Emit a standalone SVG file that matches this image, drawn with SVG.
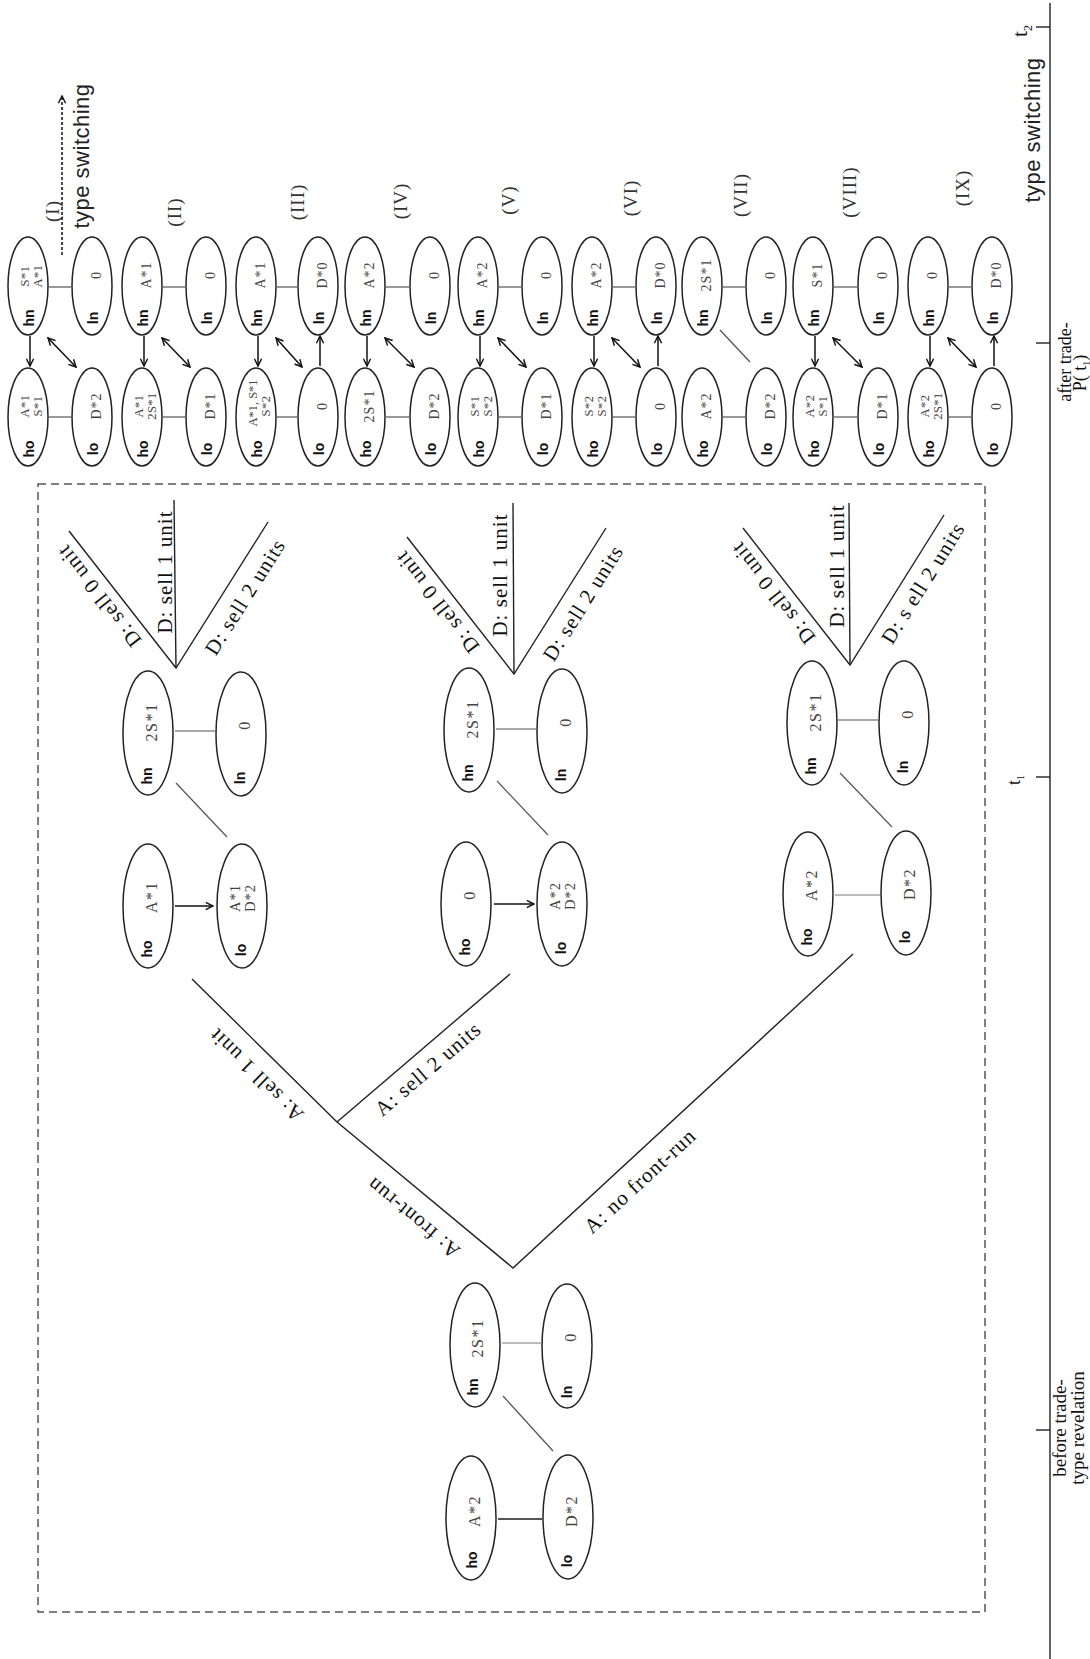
<svg xmlns="http://www.w3.org/2000/svg" width="1090" height="1659" viewBox="0 0 1090 1659">
<style>
.e{fill:#fff;stroke:#222;stroke-width:1.5}
.lb{font-family:"Liberation Sans",Arial,sans-serif;font-weight:bold;font-size:14px;fill:#111}
.v{font-family:"Liberation Serif","Times New Roman",serif;font-size:14px;fill:#444;letter-spacing:1px}
.v2{font-family:"Liberation Serif","Times New Roman",serif;font-size:12.5px;fill:#444;letter-spacing:0.5px}
.vm{font-family:"Liberation Serif","Times New Roman",serif;font-size:16px;fill:#444;letter-spacing:1.5px}
.vm2{font-family:"Liberation Serif","Times New Roman",serif;font-size:14.5px;fill:#444;letter-spacing:1px}
.t{font-family:"Liberation Serif","Times New Roman",serif;font-size:21px;fill:#111;letter-spacing:1px}
.rn{font-family:"Liberation Serif","Times New Roman",serif;font-size:19px;fill:#333;letter-spacing:1px}
.ts{font-family:"Liberation Sans",Arial,sans-serif;font-size:22px;fill:#222;letter-spacing:0.5px}
.ax{font-family:"Liberation Serif","Times New Roman",serif;font-size:18px;fill:#111}
.c{stroke:#222;stroke-width:1.4;fill:none}
.g{stroke:#555;stroke-width:1.2;fill:none}
.a{stroke:#111;stroke-width:1.5;fill:none}
text{dominant-baseline:central;text-anchor:middle}
</style>
<defs>
<marker id="ah" viewBox="0 0 10 10" refX="9" refY="5" markerWidth="9" markerHeight="9" markerUnits="userSpaceOnUse" orient="auto-start-reverse">
<path d="M1,1 L9,5 L1,9" fill="none" stroke="#111" stroke-width="1.6"/>
</marker>
</defs>
<rect width="1090" height="1659" fill="#fff"/>

<!-- frame and timeline -->
<rect x="38" y="484" width="947" height="1128" fill="none" stroke="#555" stroke-width="1.5" stroke-dasharray="8 5"/>
<g id="timeline">
<line class="c" x1="1050" y1="3" x2="1050" y2="1659"/>
<line class="c" x1="1036" y1="27" x2="1050" y2="27"/>
<line class="c" x1="1036" y1="343" x2="1050" y2="343"/>
<line class="c" x1="1036" y1="777" x2="1050" y2="777"/>
<line class="c" x1="1036" y1="1430" x2="1050" y2="1430"/>
<text class="ax" style="font-size:22px;dominant-baseline:alphabetic;text-anchor:start" transform="translate(1027,37) rotate(-90)">t<tspan font-size="12" dy="5">2</tspan></text>
<text class="ax" style="dominant-baseline:alphabetic;text-anchor:start" transform="translate(1020,785) rotate(-90)">t<tspan font-size="10" dy="4">1</tspan></text>
<text class="ax" style="dominant-baseline:alphabetic" transform="translate(1071,362) rotate(-90)">after trade-</text>
<text class="ax" style="dominant-baseline:alphabetic" transform="translate(1086,373) rotate(-90)">P( t<tspan font-size="10" dy="4">1</tspan><tspan dy="-4">)</tspan></text>
<text class="ax" style="dominant-baseline:alphabetic;font-size:19px" transform="translate(1066,1428) rotate(-90)">before trade-</text>
<text class="ax" style="dominant-baseline:alphabetic;font-size:19px" transform="translate(1084,1428) rotate(-90)">type revelation</text>
<text class="ts" style="dominant-baseline:alphabetic" transform="translate(1040,130) rotate(-90)">type switching</text>
</g>

<text class="ts" style="dominant-baseline:alphabetic" transform="translate(89,156) rotate(-90)">type switching</text>

<!-- case labels -->
<g id="case-labels">
<text class="rn" transform="translate(52,211) rotate(-90)">(I)</text>
<text class="rn" transform="translate(174,212) rotate(-90)">(II)</text>
<text class="rn" transform="translate(297,202) rotate(-90)">(III)</text>
<text class="rn" transform="translate(400,201) rotate(-90)">(IV)</text>
<text class="rn" transform="translate(508,200) rotate(-90)">(V)</text>
<text class="rn" transform="translate(630,198) rotate(-90)">(VI)</text>
<text class="rn" transform="translate(740,195) rotate(-90)">(VII)</text>
<text class="rn" transform="translate(849,192) rotate(-90)">(VIII)</text>
<text class="rn" transform="translate(962,188) rotate(-90)">(IX)</text>
</g>

<!-- connectors -->
<g id="connectors">
<line class="a" x1="62" y1="255" x2="62" y2="96" stroke-dasharray="3 2" marker-end="url(#ah)"/>
<g class="g">
<line x1="49" y1="287" x2="71" y2="287"/><line x1="49" y1="417" x2="71" y2="417"/>
<line x1="163" y1="287" x2="185" y2="287"/><line x1="163" y1="417" x2="185" y2="417"/>
<line x1="277" y1="287" x2="297" y2="287"/><line x1="277" y1="417" x2="297" y2="417"/>
<line x1="386" y1="287" x2="409" y2="287"/><line x1="386" y1="417" x2="409" y2="417"/>
<line x1="499" y1="287" x2="521" y2="287"/><line x1="499" y1="417" x2="521" y2="417"/>
<line x1="613" y1="287" x2="635" y2="287"/><line x1="613" y1="417" x2="635" y2="417"/>
<line x1="723" y1="287" x2="745" y2="287"/><line x1="723" y1="417" x2="745" y2="417"/>
<line x1="834" y1="287" x2="857" y2="287"/><line x1="834" y1="417" x2="857" y2="417"/>
<line x1="949" y1="287" x2="971" y2="287"/><line x1="949" y1="417" x2="971" y2="417"/>
<line x1="720" y1="330" x2="750" y2="362"/>
</g>
<g class="a">
<line x1="30" y1="336" x2="30" y2="366" marker-end="url(#ah)"/>
<line x1="48" y1="338" x2="76" y2="367" marker-start="url(#ah)" marker-end="url(#ah)"/>
<line x1="144" y1="336" x2="144" y2="366" marker-end="url(#ah)"/>
<line x1="162" y1="338" x2="190" y2="367" marker-start="url(#ah)" marker-end="url(#ah)"/>
<line x1="258" y1="336" x2="258" y2="366" marker-end="url(#ah)"/>
<line x1="276" y1="338" x2="302" y2="367" marker-start="url(#ah)" marker-end="url(#ah)"/>
<line x1="320" y1="366" x2="320" y2="336" marker-end="url(#ah)"/>
<line x1="367" y1="336" x2="367" y2="366" marker-end="url(#ah)"/>
<line x1="385" y1="338" x2="414" y2="367" marker-start="url(#ah)" marker-end="url(#ah)"/>
<line x1="480" y1="336" x2="480" y2="366" marker-end="url(#ah)"/>
<line x1="498" y1="338" x2="526" y2="367" marker-start="url(#ah)" marker-end="url(#ah)"/>
<line x1="594" y1="336" x2="594" y2="366" marker-end="url(#ah)"/>
<line x1="612" y1="338" x2="640" y2="367" marker-start="url(#ah)" marker-end="url(#ah)"/>
<line x1="658" y1="366" x2="658" y2="336" marker-end="url(#ah)"/>
<line x1="815" y1="336" x2="815" y2="366" marker-end="url(#ah)"/>
<line x1="833" y1="338" x2="862" y2="367" marker-start="url(#ah)" marker-end="url(#ah)"/>
<line x1="930" y1="336" x2="930" y2="366" marker-end="url(#ah)"/>
<line x1="948" y1="338" x2="976" y2="367" marker-start="url(#ah)" marker-end="url(#ah)"/>
<line x1="994" y1="366" x2="994" y2="336" marker-end="url(#ah)"/>
</g>
<g class="c">
<polyline points="192,979 337,1122 513,1268 853,954"/>
<line x1="337" y1="1122" x2="510" y2="974"/>
<polyline points="69,531 176,668 268,522"/><line x1="176" y1="668" x2="174" y2="500"/>
<polyline points="407,537 514,674 606,528"/><line x1="514" y1="674" x2="513" y2="503"/>
<polyline points="743,528 850,665 944,515"/><line x1="850" y1="665" x2="849" y2="503"/>
</g>
<g class="g">
<line x1="175" y1="731" x2="215" y2="731"/><line x1="176" y1="783" x2="227" y2="837"/>
<line x1="496" y1="729" x2="536" y2="729"/><line x1="497" y1="781" x2="548" y2="835"/>
<line x1="838" y1="720" x2="878" y2="720"/><line x1="840" y1="773" x2="892" y2="827"/>
<line x1="835" y1="895" x2="880" y2="895" stroke-width="0.8"/>
<line x1="502" y1="1343" x2="541" y2="1343" stroke-width="0.8"/><line x1="503" y1="1396" x2="553" y2="1451"/>
<line x1="498" y1="1519" x2="542" y2="1519" stroke-width="2"/>
</g>
<g class="a">
<line x1="175" y1="906" x2="213" y2="906" marker-end="url(#ah)"/>
<line x1="494" y1="904" x2="534" y2="904" marker-end="url(#ah)"/>
</g>
</g>

<!-- tree labels -->
<g id="tree-labels">
<text class="t" transform="translate(413,1218) rotate(-140.3)">A: front-run</text>
<text class="t" transform="translate(256,1075) rotate(-135.4)">A: sell 1 unit</text>
<text class="t" transform="translate(428,1069) rotate(-40.5)">A: sell 2 units</text>
<text class="t" transform="translate(640,1181) rotate(-42.7)">A: no front-run</text>
<text class="t" transform="translate(99,596) rotate(-128)">D: sell 0 unit</text>
<text class="t" transform="translate(165,572) rotate(-90)">D: sell 1 unit</text>
<text class="t" transform="translate(245,597) rotate(-57.8)">D: sell 2 units</text>
<text class="t" transform="translate(437,602) rotate(-128)">D: sell 0 unit</text>
<text class="t" transform="translate(500,575) rotate(-90)">D: sell 1 unit</text>
<text class="t" transform="translate(583,603) rotate(-57.8)">D: sell 2 units</text>
<text class="t" transform="translate(773,593) rotate(-128)">D: sell 0 unit</text>
<text class="t" transform="translate(837,566) rotate(-90)">D: sell 1 unit</text>
<text class="t" transform="translate(923,583) rotate(-57.9)">D: s ell 2 units</text>
</g>

<!-- right column nodes -->
<g id="c1-hn"><ellipse class="e" cx="28" cy="286" rx="20" ry="49"/><text class="lb" transform="translate(29,318) rotate(-90)">hn</text><text class="v2" transform="translate(25,276) rotate(-90)">S*1</text><text class="v2" transform="translate(38,276) rotate(-90)">A*1</text></g>
<g id="c1-ln"><ellipse class="e" cx="92" cy="286" rx="20" ry="49"/><text class="lb" transform="translate(93,318) rotate(-90)">ln</text><text class="v" transform="translate(96,275) rotate(-90)">0</text></g>
<g id="c1-ho"><ellipse class="e" cx="28" cy="417" rx="20" ry="49"/><text class="lb" transform="translate(29,449) rotate(-90)">ho</text><text class="v2" transform="translate(25,406) rotate(-90)">A*1</text><text class="v2" transform="translate(38,406) rotate(-90)">S*1</text></g>
<g id="c1-lo"><ellipse class="e" cx="92" cy="417" rx="20" ry="49"/><text class="lb" transform="translate(93,449) rotate(-90)">lo</text><text class="v" transform="translate(96,406) rotate(-90)">D*2</text></g>

<g id="c2-hn"><ellipse class="e" cx="142" cy="286" rx="20" ry="49"/><text class="lb" transform="translate(143,318) rotate(-90)">hn</text><text class="v" transform="translate(146,275) rotate(-90)">A*1</text></g>
<g id="c2-ln"><ellipse class="e" cx="206" cy="286" rx="20" ry="49"/><text class="lb" transform="translate(207,318) rotate(-90)">ln</text><text class="v" transform="translate(210,275) rotate(-90)">0</text></g>
<g id="c2-ho"><ellipse class="e" cx="142" cy="417" rx="20" ry="49"/><text class="lb" transform="translate(143,449) rotate(-90)">ho</text><text class="v2" transform="translate(139,406) rotate(-90)">A*1</text><text class="v2" transform="translate(152,406) rotate(-90)">2S*1</text></g>
<g id="c2-lo"><ellipse class="e" cx="206" cy="417" rx="20" ry="49"/><text class="lb" transform="translate(207,449) rotate(-90)">lo</text><text class="v" transform="translate(210,406) rotate(-90)">D*1</text></g>

<g id="c3-hn"><ellipse class="e" cx="256" cy="286" rx="20" ry="49"/><text class="lb" transform="translate(257,318) rotate(-90)">hn</text><text class="v" transform="translate(260,275) rotate(-90)">A*1</text></g>
<g id="c3-ln"><ellipse class="e" cx="318" cy="286" rx="20" ry="49"/><text class="lb" transform="translate(319,318) rotate(-90)">ln</text><text class="v" transform="translate(322,275) rotate(-90)">D*0</text></g>
<g id="c3-ho"><ellipse class="e" cx="256" cy="417" rx="20" ry="49"/><text class="lb" transform="translate(257,449) rotate(-90)">ho</text><text class="v2" style="letter-spacing:0" transform="translate(253,403) rotate(-90)">A*1, S*1</text><text class="v2" transform="translate(266,406) rotate(-90)">S*2</text></g>
<g id="c3-lo"><ellipse class="e" cx="318" cy="417" rx="20" ry="49"/><text class="lb" transform="translate(319,449) rotate(-90)">lo</text><text class="v" transform="translate(322,406) rotate(-90)">0</text></g>

<g id="c4-hn"><ellipse class="e" cx="365" cy="286" rx="20" ry="49"/><text class="lb" transform="translate(366,318) rotate(-90)">hn</text><text class="v" transform="translate(369,275) rotate(-90)">A*2</text></g>
<g id="c4-ln"><ellipse class="e" cx="430" cy="286" rx="20" ry="49"/><text class="lb" transform="translate(431,318) rotate(-90)">ln</text><text class="v" transform="translate(434,275) rotate(-90)">0</text></g>
<g id="c4-ho"><ellipse class="e" cx="365" cy="417" rx="20" ry="49"/><text class="lb" transform="translate(366,449) rotate(-90)">ho</text><text class="v" transform="translate(369,406) rotate(-90)">2S*1</text></g>
<g id="c4-lo"><ellipse class="e" cx="430" cy="417" rx="20" ry="49"/><text class="lb" transform="translate(431,449) rotate(-90)">lo</text><text class="v" transform="translate(434,406) rotate(-90)">D*2</text></g>

<g id="c5-hn"><ellipse class="e" cx="478" cy="286" rx="20" ry="49"/><text class="lb" transform="translate(479,318) rotate(-90)">hn</text><text class="v" transform="translate(482,275) rotate(-90)">A*2</text></g>
<g id="c5-ln"><ellipse class="e" cx="542" cy="286" rx="20" ry="49"/><text class="lb" transform="translate(543,318) rotate(-90)">ln</text><text class="v" transform="translate(546,275) rotate(-90)">0</text></g>
<g id="c5-ho"><ellipse class="e" cx="478" cy="417" rx="20" ry="49"/><text class="lb" transform="translate(479,449) rotate(-90)">ho</text><text class="v2" transform="translate(475,406) rotate(-90)">S*1</text><text class="v2" transform="translate(488,406) rotate(-90)">S*2</text></g>
<g id="c5-lo"><ellipse class="e" cx="542" cy="417" rx="20" ry="49"/><text class="lb" transform="translate(543,449) rotate(-90)">lo</text><text class="v" transform="translate(546,406) rotate(-90)">D*1</text></g>

<g id="c6-hn"><ellipse class="e" cx="592" cy="286" rx="20" ry="49"/><text class="lb" transform="translate(593,318) rotate(-90)">hn</text><text class="v" transform="translate(596,275) rotate(-90)">A*2</text></g>
<g id="c6-ln"><ellipse class="e" cx="656" cy="286" rx="20" ry="49"/><text class="lb" transform="translate(657,318) rotate(-90)">ln</text><text class="v" transform="translate(660,275) rotate(-90)">D*0</text></g>
<g id="c6-ho"><ellipse class="e" cx="592" cy="417" rx="20" ry="49"/><text class="lb" transform="translate(593,449) rotate(-90)">ho</text><text class="v2" transform="translate(589,406) rotate(-90)">S*2</text><text class="v2" transform="translate(602,406) rotate(-90)">S*2</text></g>
<g id="c6-lo"><ellipse class="e" cx="656" cy="417" rx="20" ry="49"/><text class="lb" transform="translate(657,449) rotate(-90)">lo</text><text class="v" transform="translate(660,406) rotate(-90)">0</text></g>

<g id="c7-hn"><ellipse class="e" cx="702" cy="286" rx="20" ry="49"/><text class="lb" transform="translate(703,318) rotate(-90)">hn</text><text class="v" transform="translate(706,275) rotate(-90)">2S*1</text></g>
<g id="c7-ln"><ellipse class="e" cx="766" cy="286" rx="20" ry="49"/><text class="lb" transform="translate(767,318) rotate(-90)">ln</text><text class="v" transform="translate(770,275) rotate(-90)">0</text></g>
<g id="c7-ho"><ellipse class="e" cx="702" cy="417" rx="20" ry="49"/><text class="lb" transform="translate(703,449) rotate(-90)">ho</text><text class="v" transform="translate(706,406) rotate(-90)">A*2</text></g>
<g id="c7-lo"><ellipse class="e" cx="766" cy="417" rx="20" ry="49"/><text class="lb" transform="translate(767,449) rotate(-90)">lo</text><text class="v" transform="translate(770,406) rotate(-90)">D*2</text></g>

<g id="c8-hn"><ellipse class="e" cx="813" cy="286" rx="20" ry="49"/><text class="lb" transform="translate(814,318) rotate(-90)">hn</text><text class="v" transform="translate(817,275) rotate(-90)">S*1</text></g>
<g id="c8-ln"><ellipse class="e" cx="878" cy="286" rx="20" ry="49"/><text class="lb" transform="translate(879,318) rotate(-90)">ln</text><text class="v" transform="translate(882,275) rotate(-90)">0</text></g>
<g id="c8-ho"><ellipse class="e" cx="813" cy="417" rx="20" ry="49"/><text class="lb" transform="translate(814,449) rotate(-90)">ho</text><text class="v2" transform="translate(810,406) rotate(-90)">A*2</text><text class="v2" transform="translate(823,406) rotate(-90)">S*1</text></g>
<g id="c8-lo"><ellipse class="e" cx="878" cy="417" rx="20" ry="49"/><text class="lb" transform="translate(879,449) rotate(-90)">lo</text><text class="v" transform="translate(882,406) rotate(-90)">D*1</text></g>

<g id="c9-hn"><ellipse class="e" cx="928" cy="286" rx="20" ry="49"/><text class="lb" transform="translate(929,318) rotate(-90)">hn</text><text class="v" transform="translate(932,275) rotate(-90)">0</text></g>
<g id="c9-ln"><ellipse class="e" cx="992" cy="286" rx="20" ry="49"/><text class="lb" transform="translate(993,318) rotate(-90)">ln</text><text class="v" transform="translate(996,275) rotate(-90)">D*0</text></g>
<g id="c9-ho"><ellipse class="e" cx="928" cy="417" rx="20" ry="49"/><text class="lb" transform="translate(929,449) rotate(-90)">ho</text><text class="v2" transform="translate(925,406) rotate(-90)">A*2</text><text class="v2" transform="translate(938,406) rotate(-90)">2S*1</text></g>
<g id="c9-lo"><ellipse class="e" cx="992" cy="417" rx="20" ry="49"/><text class="lb" transform="translate(993,449) rotate(-90)">lo</text><text class="v" transform="translate(996,406) rotate(-90)">0</text></g>

<!-- tree nodes -->
<g id="b1-hn"><ellipse class="e" cx="148" cy="733" rx="25" ry="62"/><text class="lb" transform="translate(147,776) rotate(-90)">hn</text><text class="vm" transform="translate(151,722) rotate(-90)">2S*1</text></g>
<g id="b1-ln"><ellipse class="e" cx="241" cy="734" rx="25" ry="62"/><text class="lb" transform="translate(240,778) rotate(-90)">ln</text><text class="vm" transform="translate(244,725) rotate(-90)">0</text></g>
<g id="b1-ho"><ellipse class="e" cx="148" cy="906" rx="25" ry="62"/><text class="lb" transform="translate(147,949) rotate(-90)">ho</text><text class="vm" transform="translate(151,897) rotate(-90)">A*1</text></g>
<g id="b1-lo"><ellipse class="e" cx="242" cy="906" rx="25" ry="62"/><text class="lb" transform="translate(241,950) rotate(-90)">lo</text><text class="vm2" transform="translate(235,898) rotate(-90)">A*1</text><text class="vm2" transform="translate(250,898) rotate(-90)">D*2</text></g>

<g id="b2-hn"><ellipse class="e" cx="469" cy="730" rx="25" ry="62"/><text class="lb" transform="translate(468,773) rotate(-90)">hn</text><text class="vm" transform="translate(472,719) rotate(-90)">2S*1</text></g>
<g id="b2-ln"><ellipse class="e" cx="562" cy="731" rx="25" ry="62"/><text class="lb" transform="translate(561,775) rotate(-90)">ln</text><text class="vm" transform="translate(565,722) rotate(-90)">0</text></g>
<g id="b2-ho"><ellipse class="e" cx="466" cy="904" rx="25" ry="62"/><text class="lb" transform="translate(465,947) rotate(-90)">ho</text><text class="vm" transform="translate(469,895) rotate(-90)">0</text></g>
<g id="b2-lo"><ellipse class="e" cx="562" cy="904" rx="25" ry="62"/><text class="lb" transform="translate(561,948) rotate(-90)">lo</text><text class="vm2" transform="translate(555,896) rotate(-90)">A*2</text><text class="vm2" transform="translate(570,896) rotate(-90)">D*2</text></g>

<g id="b3-hn"><ellipse class="e" cx="812" cy="723" rx="25" ry="62"/><text class="lb" transform="translate(811,766) rotate(-90)">hn</text><text class="vm" transform="translate(815,712) rotate(-90)">2S*1</text></g>
<g id="b3-ln"><ellipse class="e" cx="904" cy="723" rx="25" ry="62"/><text class="lb" transform="translate(903,767) rotate(-90)">ln</text><text class="vm" transform="translate(907,714) rotate(-90)">0</text></g>
<g id="b3-ho"><ellipse class="e" cx="808" cy="894" rx="25" ry="62"/><text class="lb" transform="translate(807,937) rotate(-90)">ho</text><text class="vm" transform="translate(811,885) rotate(-90)">A*2</text></g>
<g id="b3-lo"><ellipse class="e" cx="906" cy="893" rx="25" ry="62"/><text class="lb" transform="translate(905,937) rotate(-90)">lo</text><text class="vm" transform="translate(909,884) rotate(-90)">D*2</text></g>

<g id="r-hn"><ellipse class="e" cx="475" cy="1345" rx="25" ry="62"/><text class="lb" transform="translate(473,1387) rotate(-90)">hn</text><text class="vm" transform="translate(477,1338) rotate(-90)">2S*1</text></g>
<g id="r-ln"><ellipse class="e" cx="567" cy="1346" rx="25" ry="62"/><text class="lb" transform="translate(567,1392) rotate(-90)">ln</text><text class="vm" transform="translate(570,1337) rotate(-90)">0</text></g>
<g id="r-ho"><ellipse class="e" cx="471" cy="1518" rx="25" ry="62"/><text class="lb" transform="translate(472,1560) rotate(-90)">ho</text><text class="vm" transform="translate(474,1511) rotate(-90)">A*2</text></g>
<g id="r-lo"><ellipse class="e" cx="568" cy="1517" rx="25" ry="62"/><text class="lb" transform="translate(567,1561) rotate(-90)">lo</text><text class="vm" transform="translate(571,1511) rotate(-90)">D*2</text></g>
</svg>
